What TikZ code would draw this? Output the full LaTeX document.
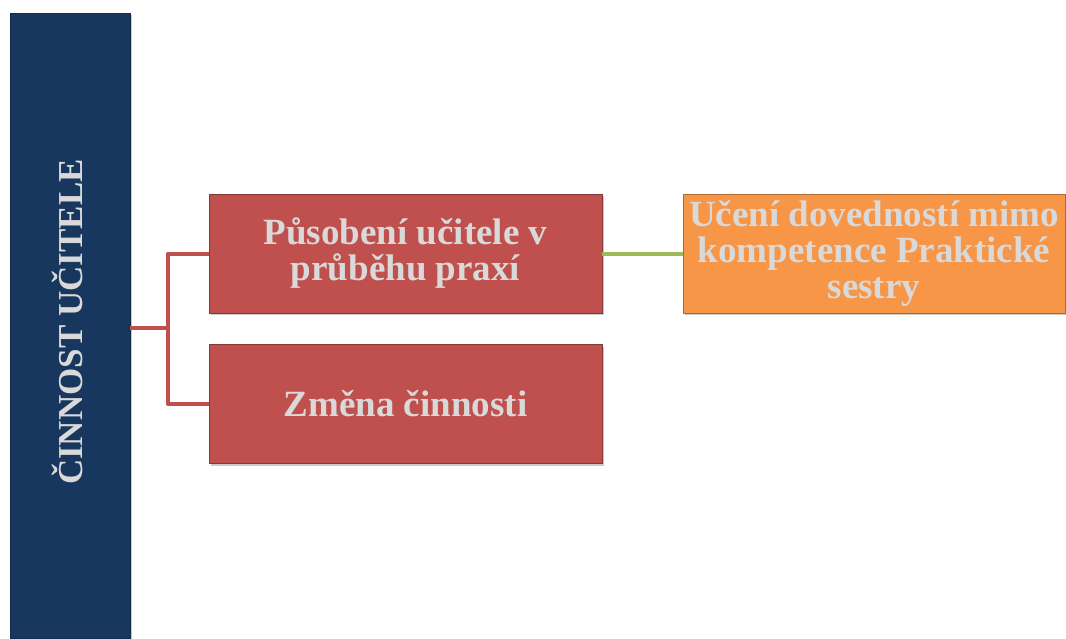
\documentclass[tikz,border=0pt]{standalone}
\usepackage{fontspec}
\setmainfont{Liberation Serif}
\usetikzlibrary{shadows}
\definecolor{barblue}{HTML}{17375E}
\definecolor{boxred}{HTML}{C0504D}
\definecolor{boxorange}{HTML}{F79646}
\definecolor{linegreen}{HTML}{9BBB59}
\definecolor{txtgrey}{HTML}{D9D9D9}
\tikzset{
  shadowed/.style={drop shadow={shadow xshift=2pt,shadow yshift=-2pt,opacity=0.35,fill=black!60}},
  redbox/.style={shadowed,draw=boxred!70!black,line width=0.8pt,fill=boxred,minimum width=393pt,minimum height=119pt,inner sep=0pt,
    text=txtgrey,align=center,font=\fontsize{37}{36}\selectfont\bfseries},
  orangebox/.style={shadowed,draw=boxorange!70!black,line width=0.8pt,fill=boxorange,minimum width=382pt,minimum height=119pt,inner sep=0pt,
    text=txtgrey,align=center,font=\fontsize{37}{36}\selectfont\bfseries},
  barbox/.style={shadowed,fill=barblue,draw=barblue!80!black,line width=0.5pt,minimum width=120pt,minimum height=625pt,inner sep=0pt},
  redline/.style={draw=boxred,line width=4pt,line join=round},
  greenline/.style={draw=linegreen,line width=4pt}
}
\begin{document}
\begin{tikzpicture}[x=1pt,y=-1pt]
\useasboundingbox (0,0) rectangle (1066,638);
\node[barbox] (bar) at (70,325.5) {};
\node[rotate=90,text=txtgrey,font=\fontsize{35}{36}\selectfont\bfseries,anchor=center] (bartext) at (67,322) {ČINNOST UČITELE};
\node[redbox] (b1) at (405.5,253.5) {Působení učitele v\\průběhu praxí};
\node[redbox] (b2) at (405.5,404) {Změna činnosti};
\node[orangebox] (o1) at (874,253.5) {Učení dovedností mimo\\kompetence Praktické\\sestry};
\coordinate (start) at ([yshift=-2.5pt]bar.east);
\coordinate (j) at (168,328);
\draw[redline] (start) -- (j) |- (b1.west);
\draw[redline] (j) |- (b2.west);
\draw[greenline] (b1.east) -- (o1.west);
\end{tikzpicture}
\end{document}
